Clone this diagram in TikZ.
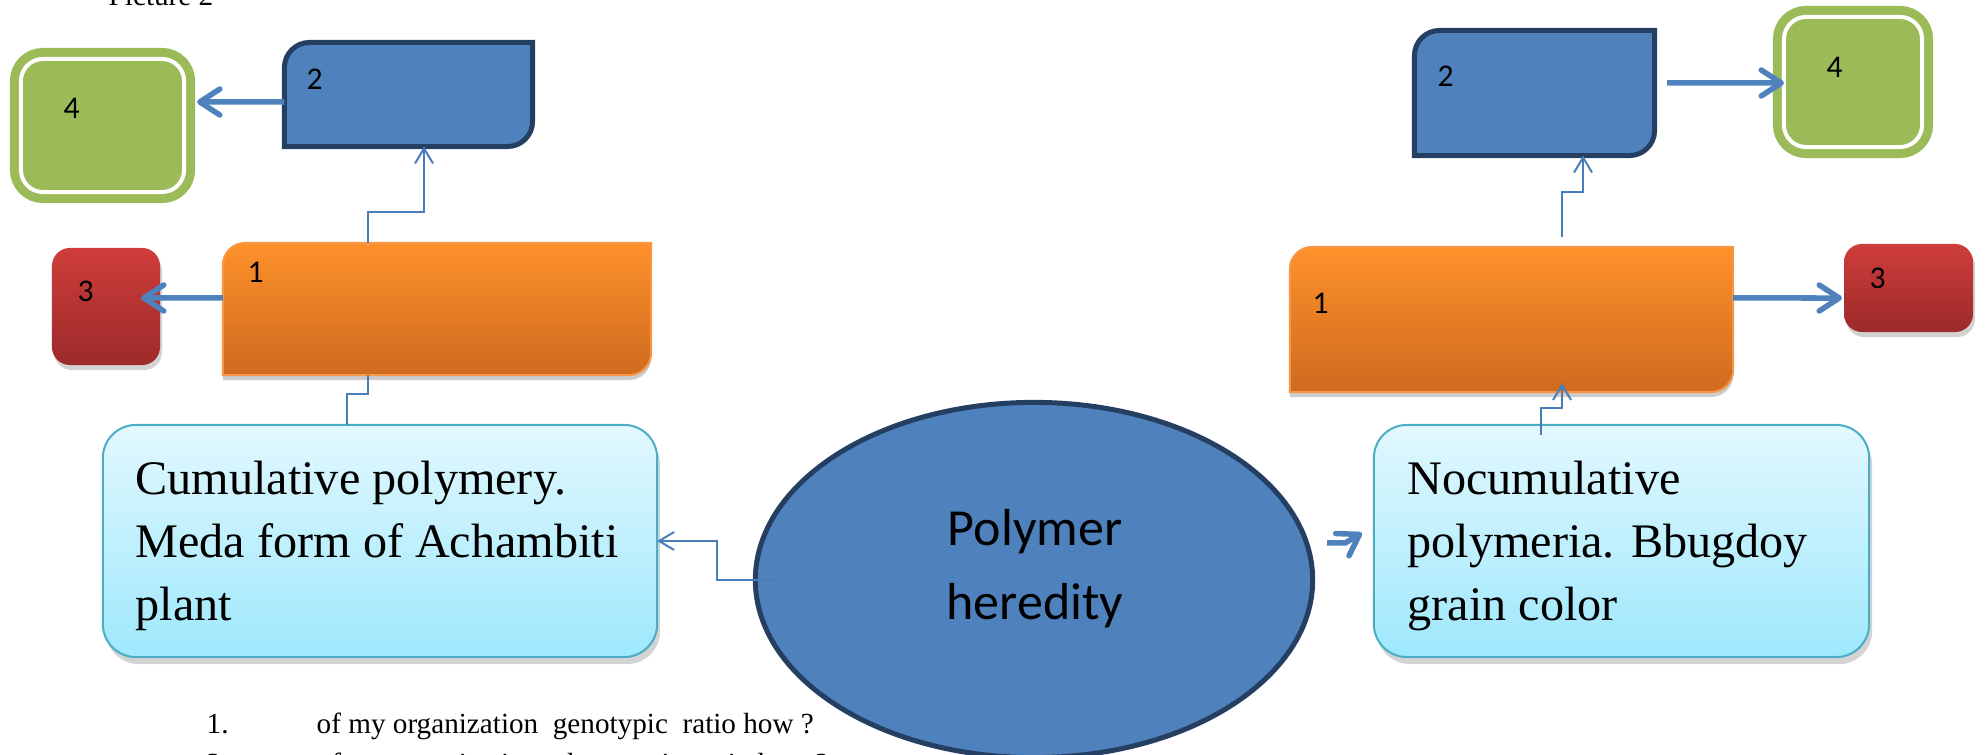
\documentclass[tikz,border=0pt]{standalone}
\usepackage{fontspec}
\setmainfont{Liberation Serif}
\newfontfamily\calibri{Carlito}
\usetikzlibrary{shapes.geometric,arrows.meta,shadows}

\definecolor{boxblue}{HTML}{4F81BD}
\definecolor{boxnavy}{HTML}{253F62}
\definecolor{leafgreen}{HTML}{9BBB59}
\definecolor{orangetop}{HTML}{FE912B}
\definecolor{orangebot}{HTML}{CF6A1F}
\definecolor{orangeline}{HTML}{F79646}
\definecolor{redtop}{HTML}{CE3D3A}
\definecolor{redbot}{HTML}{9C2A2A}
\definecolor{cyantop}{HTML}{E2F8FE}
\definecolor{cyanbot}{HTML}{9EE8FC}
\definecolor{cyanline}{HTML}{4BACC6}
\definecolor{linkblue}{HTML}{4A7EBB}

\tikzset{
  cell/.style={rectangle, inner sep=0pt, outer sep=0pt, draw=none},
  trait/.style={rectangle, rounded corners=0.33cm, outer sep=0pt,
    draw=cyanline, line width=0.02cm, top color=cyantop, bottom color=cyanbot,
    drop shadow={shadow xshift=0.03cm, shadow yshift=-0.07cm, opacity=0.35}},
  traittext/.style={anchor=west, inner sep=0pt, align=left,
    font=\fontsize{13.7}{18}\selectfont},
  answer/.style={rectangle, rounded corners=0.22cm, outer sep=0pt,
    fill=leafgreen, draw=leafgreen, line width=0.09cm,
    double=white, double distance=0.04cm},
  result/.style={rectangle, rounded corners=0.18cm, outer sep=0pt,
    top color=redtop, bottom color=redbot,
    drop shadow={shadow xshift=0.02cm, shadow yshift=-0.05cm, opacity=0.35}},
  stage/.style={top color=orangetop, bottom color=orangebot,
    draw=orangeline, line width=0.02cm,
    drop shadow={shadow xshift=0cm, shadow yshift=-0.05cm, opacity=0.4}},
  num/.style={anchor=base west, inner sep=0pt, font=\calibri\fontsize{9}{10}\selectfont},
  notes/.style={anchor=base west, inner sep=0pt, font=\fontsize{8.3}{10}\selectfont},
  fat/.style={draw=boxblue, line width=0.055cm,
    -{Straight Barb[length=0.2cm,width=0.26cm,round]}},
  link/.style={draw=linkblue, line width=0.02cm},
  linkto/.style={link, -{Straight Barb[length=0.15cm,width=0.18cm]}}
}

% box with rounded top left and bottom right corners
\newcommand{\cornerbox}[3]{%
  \path[#3] (#1.south west) -- ([yshift=-#2]#1.north west)
    arc[start angle=180, end angle=90, radius=#2] -- (#1.north east)
    -- ([yshift=#2]#1.south east)
    arc[start angle=0, end angle=-90, radius=#2] -- cycle;}

\begin{document}
\begin{tikzpicture}[x=0.01cm, y=-0.01cm]
  \clip (0,0) rectangle (1986,755);

  % left branch
  \node[answer, minimum width=1.63cm, minimum height=1.33cm] (g4L) at (102.5,125.5) {};
  \node[cell, minimum width=2.48cm, minimum height=1.04cm] (b2L) at (408.5,94.5) {};
  \cornerbox{b2L}{0.25cm}{fill=boxblue, draw=boxnavy, line width=0.05cm}
  \node[result, minimum width=1.08cm, minimum height=1.17cm] (r3L) at (106,306.5) {};
  \node[cell, minimum width=4.28cm, minimum height=1.32cm] (o1L) at (437,309) {};
  \cornerbox{o1L}{0.22cm}{stage}
  \node[trait, minimum width=5.54cm, minimum height=2.32cm] (cL) at (380,541) {};
  \node[traittext] (cLtext) at ([xshift=0.32cm,yshift=-0.05cm]cL.west)
    {Cumulative polymery.\\Meda form of Achambiti\\plant};

  % centre
  \node[ellipse, fill=boxblue, draw=boxnavy, line width=0.05cm, inner sep=0pt,
    minimum width=5.57cm, minimum height=3.55cm] (poly) at (1034,580) {};
  \node[font=\calibri\fontsize{14.8}{21}\selectfont, align=center] (polytxt)
    at (1035,569) {Polymer\\heredity};

  % right branch
  \node[answer, minimum width=1.38cm, minimum height=1.30cm] (g4R) at (1853,82) {};
  \node[cell, minimum width=2.40cm, minimum height=1.25cm] (b2R) at (1534.5,93) {};
  \cornerbox{b2R}{0.25cm}{fill=boxblue, draw=boxnavy, line width=0.05cm}
  \node[result, minimum width=1.29cm, minimum height=0.88cm] (r3R) at (1908.5,288) {};
  \node[cell, minimum width=4.43cm, minimum height=1.45cm] (o1R) at (1511.5,319.5) {};
  \cornerbox{o1R}{0.22cm}{stage}
  \node[trait, minimum width=4.95cm, minimum height=2.32cm] (cR) at (1621.5,541) {};
  \node[traittext] (cRtext) at ([xshift=0.33cm,yshift=-0.05cm]cR.west)
    {Nocumulative\\polymeria. Bbugdoy\\grain color};

  % numbers
  \node[num] (n4L) at (63,119) {4};
  \node[num] (n2L) at (306,90) {2};
  \node[num] (n3L) at (77,302) {3};
  \node[num] (n1L) at (247,283) {1};
  \node[num] (n2R) at (1437,87) {2};
  \node[num] (n4R) at (1826,78) {4};
  \node[num] (n1R) at (1312,314) {1};
  \node[num] (n3R) at (1869,288) {3};

  % thick arrows
  \draw[fat] ([yshift=-0.075cm]b2L.west) -- ([xshift=0.13cm,yshift=0.235cm]g4L.east);
  \draw[fat] ([yshift=0.11cm]o1L.west) -- ([xshift=-0.19cm,yshift=0.085cm]r3L.east);
  \draw[fat] ([xshift=0.125cm,yshift=0.1cm]b2R.east) -- ([yshift=-0.01cm]g4R.west);
  \draw[fat] ([yshift=0.215cm]o1R.east) -- ([xshift=-0.02cm,yshift=-0.1cm]r3R.west);
  \draw[fat] ([xshift=0.12cm,yshift=0.37cm]poly.east) -- ++(18,0)
    -- ([xshift=-0.12cm,yshift=0.08cm]cR.west);

  % thin links
  \draw[linkto] ([xshift=1.45cm]o1L.north west) -- ++(0,-31) -| ([xshift=1.395cm]b2L.south west);
  \draw[link] ([xshift=2.44cm]cL.north west) -- ++(0,-31) -| ([xshift=1.45cm]o1L.south west);
  \draw[linkto] ([xshift=0.22cm]poly.west) -- ++(-58,0) |- (cL.east);
  \draw[linkto] ([xshift=1.67cm,yshift=-0.1cm]cR.north west) -- ++(0,-27)
    -| ([xshift=2.72cm,yshift=0.09cm]o1R.south west);
  \draw[linkto] ([xshift=2.72cm,yshift=0.1cm]o1R.north west) -- ++(0,-45)
    -| ([xshift=1.685cm]b2R.south west);

  % page text
  \node[notes] (pic) at (108,6) {Picture 2};
  \node[notes] (q1n) at (206,733) {1.};
  \node[notes] (q1) at (316,733) {of my organization\ \ genotypic\ \ ratio how ?};
  \node[notes] (q2n) at (206,773) {2.};
  \node[notes] (q2) at (316,773) {of my organization\ \ phenotypic\ \ ratio how ?};
\end{tikzpicture}
\end{document}
